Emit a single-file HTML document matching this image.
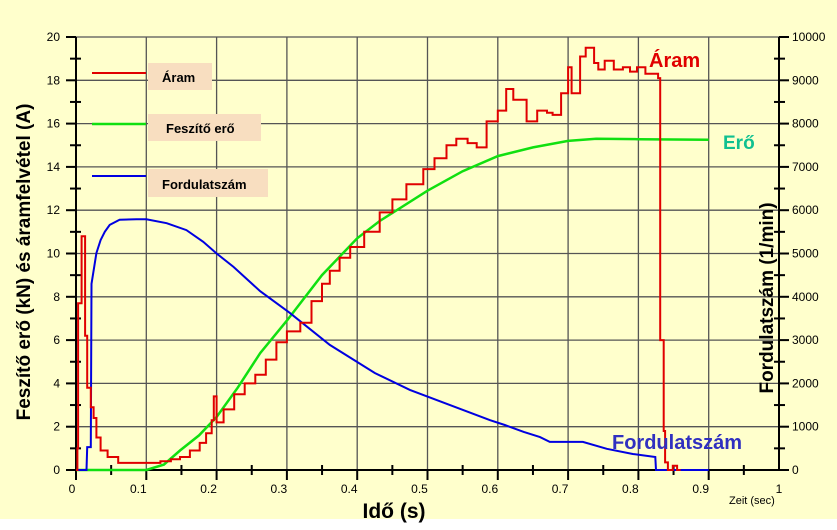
<!DOCTYPE html>
<html><head><meta charset="utf-8"><style>
body{margin:0;background:#fff}
svg{display:block;font-family:"Liberation Sans",Arial,sans-serif}
</style></head><body>
<svg id="chart" width="837" height="530" viewBox="0 0 837 530">
<rect x="0" y="0" width="837" height="519" fill="#FFFFCC"/>
<g id="grid"></g>
<g id="axes"></g>
<g id="series"></g>
<g>
 <line x1="92" y1="73" x2="146" y2="73" stroke="#e00000" stroke-width="2"/>
 <rect x="148" y="63" width="64" height="27" fill="#F8DEC0"/>
 <text x="162" y="82" font-size="13" font-weight="bold">Áram</text>
 <line x1="92" y1="124" x2="146" y2="124" stroke="#10e010" stroke-width="2.5"/>
 <rect x="148" y="114" width="113" height="27" fill="#F8DEC0"/>
 <text x="166" y="133" font-size="13" font-weight="bold">Feszítő erő</text>
 <line x1="92" y1="176" x2="146" y2="176" stroke="#0000e0" stroke-width="2"/>
 <rect x="148" y="169" width="120" height="28" fill="#F8DEC0"/>
 <text x="162" y="189" font-size="13" font-weight="bold">Fordulatszám</text>
</g>
<text x="649" y="67" font-size="20" font-weight="bold" fill="#e00000">Áram</text>
<text x="723" y="149" font-size="19" font-weight="bold" fill="#10c090">Erő</text>
<text x="612" y="449" font-size="20" font-weight="bold" fill="#3030c0">Fordulatszám</text>
<text x="729" y="504" font-size="11">Zeit (sec)</text>
<text x="394" y="518" font-size="21" font-weight="bold" text-anchor="middle">Idő (s)</text>
<text transform="translate(30,262) rotate(-90)" font-size="19" font-weight="bold" text-anchor="middle">Feszítő erő (kN) és áramfelvétel (A)</text>
<text transform="translate(773,298) rotate(-90)" font-size="19" font-weight="bold" text-anchor="middle">Fordulatszám (1/min)</text>
</svg>
<script>
const xTicks=[0,0.1,0.2,0.3,0.4,0.5,0.6,0.7,0.8,0.9,1];
const xTickLabels=["0","0.1","0.2","0.3","0.4","0.5","0.6","0.7","0.8","0.9","1"];
const yLeftTicks=[0,2,4,6,8,10,12,14,16,18,20];
const yRightTicks=[0,1000,2000,3000,4000,5000,6000,7000,8000,9000,10000];
const aramT=[0,0.002,0.003,0.008,0.013,0.016,0.021,0.025,0.029,0.035,0.045,0.06,0.09,0.12,0.135,0.148,0.162,0.176,0.185,0.193,0.196,0.2,0.21,0.225,0.24,0.255,0.27,0.285,0.3,0.319,0.335,0.35,0.361,0.375,0.39,0.41,0.432,0.45,0.47,0.494,0.51,0.527,0.541,0.557,0.57,0.584,0.6,0.612,0.622,0.641,0.656,0.67,0.678,0.69,0.7,0.705,0.717,0.725,0.73,0.737,0.743,0.752,0.765,0.778,0.788,0.798,0.81,0.828,0.831,0.836,0.838,0.842,0.849,0.855,0.86];
const aramV=[0,1,7.7,10.8,6.2,3.8,2.9,2.4,1.5,0.9,0.6,0.33,0.33,0.4,0.5,0.6,0.9,1.25,1.7,2.3,3.4,2.2,2.8,3.5,4.0,4.4,5.1,5.9,6.4,6.8,7.8,8.6,9.2,9.8,10.3,11.0,11.9,12.5,13.2,13.9,14.4,15.0,15.3,15.1,14.9,16.1,16.6,17.6,17.1,16.1,16.6,16.5,16.4,17.4,18.6,17.4,19.1,19.5,19.5,18.8,18.5,18.9,18.5,18.6,18.4,18.6,18.3,18.1,6,1.8,0.35,0,0.2,0,0];
const forceT=[0,0.1,0.125,0.148,0.175,0.2,0.23,0.262,0.3,0.35,0.4,0.432,0.5,0.55,0.6,0.65,0.7,0.74,0.8,0.9];
const forceV=[0,0,0.25,0.9,1.6,2.45,3.8,5.4,6.9,9.0,10.7,11.5,12.9,13.8,14.5,14.9,15.2,15.3,15.28,15.25];
const speedT=[0,0.015,0.016,0.021,0.022,0.029,0.035,0.041,0.048,0.062,0.086,0.1,0.129,0.157,0.181,0.2,0.224,0.262,0.304,0.361,0.425,0.475,0.532,0.589,0.61,0.637,0.66,0.674,0.721,0.755,0.792,0.824,0.825,0.9];
const speedV=[0,0,530,530,4300,5010,5310,5500,5660,5780,5790,5790,5700,5540,5270,5000,4690,4130,3630,2890,2240,1850,1500,1150,1040,880,760,650,650,490,370,300,0,0];

const X0=76,X1=779,Y0=470,Y1=37;
const xs=t=>X0+(X1-X0)*t;
const yl=v=>Y0-(Y0-Y1)*v/20;
const yr=v=>Y0-(Y0-Y1)*v/10000;
const NS="http://www.w3.org/2000/svg";
function mk(tag,parent,attrs){const e=document.createElementNS(NS,tag);for(const k in attrs)e.setAttribute(k,attrs[k]);parent.appendChild(e);return e;}
const grid=document.getElementById('grid'),axes=document.getElementById('axes'),series=document.getElementById('series');
xTicks.forEach((t,i)=>{
 if(i>0&&i<xTicks.length-1){const l=mk('line',grid,{x1:xs(t),x2:xs(t),y1:Y1,y2:Y0,stroke:'#555',"stroke-width":1.3});
 
 }
 const tx=mk('text',axes,{x:xs(t)-(i==0?4:i==10?0:8),y:Y0+23,"font-size":12,"text-anchor":"middle"});
 tx.textContent=xTickLabels[i];
 
 
});
for(let k=0;k<20;k++){const t=k*0.05;const big=k%2==0;
 const l=mk('line',axes,{x1:xs(t),x2:xs(t),y1:Y0-(big?0:5),y2:Y0+(big?10:5),stroke:'#000',"stroke-width":2});
 
 }
yLeftTicks.forEach((v,i)=>{
 if(i>0){const l=mk('line',grid,{x1:X0,x2:X1,y1:yl(v),y2:yl(v),stroke:'#555',"stroke-width":1.3});
 
 }
 const tx=mk('text',axes,{x:X0-16,y:yl(v)+4,"font-size":12,"text-anchor":"end"});
 tx.textContent=String(v);
 
 
});
for(let v=0;v<=20;v++){const big=v%2==0;
 const l=mk('line',axes,{x1:X0-(big?10:6),x2:X0+(big?0:5),y1:yl(v),y2:yl(v),stroke:'#000',"stroke-width":2});
 
 }
yRightTicks.forEach(v=>{
 const tx=mk('text',axes,{x:X1+13,y:yr(v)+4,"font-size":12});
 tx.textContent=String(v);
 
 
});
for(let v=0;v<=10000;v+=500){const big=v%1000==0;
 const l=mk('line',axes,{x1:X1-(big?0:5),x2:X1+(big?10:6),y1:yr(v),y2:yr(v),stroke:'#000',"stroke-width":2});
 
 }
let a=mk('line',axes,{x1:X0,x2:X0,y1:Y1,y2:Y0,stroke:'#000',"stroke-width":2});


a=mk('line',axes,{x1:X1,x2:X1,y1:Y1,y2:Y0,stroke:'#000',"stroke-width":2});


a=mk('line',axes,{x1:X0,x2:X1,y1:Y0,y2:Y0,stroke:'#000',"stroke-width":2});



function stepPath(T,V,yf){let d='M'+xs(T[0])+','+yf(V[0]);for(let i=1;i<T.length;i++){d+=' H'+xs(T[i]).toFixed(1)+' V'+yf(V[i]).toFixed(1);}return d;}
function linePath(T,V,yf){return T.map((t,i)=>(i?'L':'M')+xs(t).toFixed(1)+','+yf(V[i]).toFixed(1)).join(' ');}
let p=mk('path',series,{d:linePath(forceT,forceV,yl),fill:'none',stroke:'#10e010',"stroke-width":2.5});


p=mk('path',series,{d:linePath(speedT,speedV,yr),fill:'none',stroke:'#0000e0',"stroke-width":2});


p=mk('path',series,{d:stepPath(aramT,aramV,yl),fill:'none',stroke:'#e00000',"stroke-width":2});


</script>
</body></html>
